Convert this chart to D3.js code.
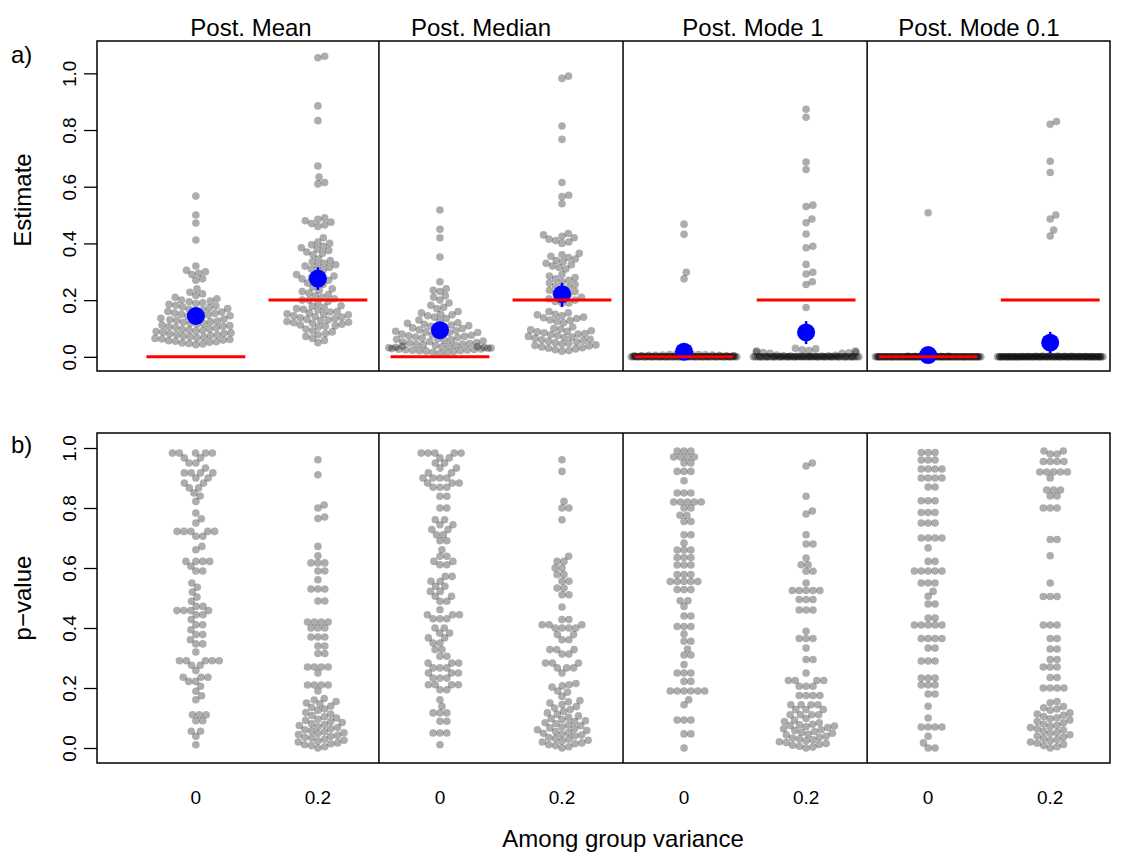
<!DOCTYPE html>
<html>
<head>
<meta charset="utf-8">
<script src="https://cdn.jsdelivr.net/npm/d3@7"></script>
<style>
  body { margin: 0; background: #fff; }
  text { font-family: "Liberation Sans", Arial, Helvetica, sans-serif; fill: #000; }
</style>
</head>
<body>
<svg id="chart" width="1139" height="852"></svg>
<script>
// panel titles and group labels
const methods = ["Post. Mean", "Post. Median", "Post. Mode 1", "Post. Mode 0.1"];
const varLabels = ["0", "0.2"];
const trueValues = [0, 0.2];
const yTicks = [0, 0.2, 0.4, 0.6, 0.8, 1.0];

// a) estimates, one array per group (read off the picture)
const estMean0 = [0.567,0.50,0.472,0.412,0.32,0.305,0.30,0.295,0.29,0.275,0.27,0.24,
  0.228,0.222,0.216,0.21,0.205,0.20,
  0.197,0.194,0.191,0.188,0.185,0.182,0.179,0.176,0.173,0.17,
  0.168,0.165,0.163,0.16,0.158,0.155,0.153,0.15,0.148,0.145,0.143,0.14,
  0.138,0.136,0.133,0.131,0.129,0.126,0.124,0.122,0.119,0.117,0.115,0.112,0.11,
  0.108,0.106,0.104,0.102,0.099,0.097,0.095,0.093,0.091,0.089,0.087,0.085,0.083,0.081,
  0.079,0.077,0.075,0.073,0.071,0.069,0.067,0.065,0.063,0.061,0.059,0.057,0.055,0.053,0.051,
  0.049,0.047,0.045,0.043];
const estMean02 = [1.06,1.055,0.885,0.833,0.673,0.634,0.615,0.61,
  0.49,0.485,0.48,0.475,0.47,0.465,0.46,
  0.42,0.405,0.40,0.395,0.39,0.385,0.38,0.375,0.37,0.365,0.36,
  0.345,0.34,0.335,0.33,0.325,0.32,0.32,0.315,0.31,0.305,
  0.295,0.29,0.285,0.28,0.28,0.275,0.27,0.265,0.26,0.255,
  0.245,0.24,0.235,0.23,0.225,0.22,0.215,0.21,0.205,0.20,0.20,0.195,0.19,
  0.18,0.178,0.175,0.17,0.168,0.165,0.16,0.158,0.155,0.152,0.15,0.148,0.145,0.142,0.14,0.138,
  0.135,0.132,0.13,0.128,0.125,0.122,0.12,0.118,0.115,0.112,0.11,0.108,0.105,
  0.098,0.092,0.088,0.082,0.078,0.072,0.065,0.058,0.05];
const estMedian0 = [0.518,0.45,0.42,0.352,0.265,0.24,0.235,0.23,0.215,0.21,0.2,0.19,0.182,0.175,0.17,
  0.16,0.155,0.15,0.148,0.145,0.14,0.135,0.13,0.125,
  0.12,0.118,0.115,0.112,0.11,0.108,0.105,0.102,0.10,0.098,0.095,0.092,0.09,0.088,0.086,
  0.085,0.082,0.08,0.078,0.076,0.074,0.072,0.07,0.068,0.066,0.064,0.062,0.06,0.058,0.056,0.054,
  0.052,0.05,0.049,0.047,0.045,0.044,0.042,0.041,0.04,0.038,0.037,0.036,0.035,0.034,0.033,0.032,
  0.031,0.03,0.029,0.028,0.027,0.026,0.025,0.024,0.023,0.022,0.021,0.02,0.018,0.016,0.014,0.012];
const estMedian02 = [0.99,0.982,0.814,0.767,0.615,0.57,0.565,0.54,
  0.435,0.43,0.425,0.42,0.415,0.41,0.405,0.40,
  0.365,0.36,0.355,0.35,0.345,0.34,0.335,0.33,0.325,0.32,0.315,0.31,
  0.29,0.285,0.28,0.275,0.27,0.265,0.26,0.255,0.25,0.245,0.24,0.235,0.23,0.225,0.22,0.215,0.21,0.205,0.20,0.195,0.19,0.19,
  0.16,0.155,0.15,0.148,0.145,0.14,0.138,0.135,0.13,0.128,0.125,0.12,
  0.105,0.10,0.098,0.095,0.092,0.09,0.088,0.085,0.082,0.08,0.078,0.075,0.072,0.07,0.068,0.065,
  0.062,0.06,0.058,0.055,0.052,0.05,0.048,0.045,0.042,0.04,0.038,0.035,0.032,0.03,0.028,0.025,0.022,0.02];
const estMode1_0 = [0.468,0.432,0.298,0.275,
  0.012,0.01,0.01,0.008,0.008,0.007,0.006,0.006,0.005,0.005,0.005,0.004,0.004,0.004,0.003,0.003,
  0.003,0.003,0.002,0.002,0.002,0.002,0.002,0.001,0.001,0.001,0.001,0.001,0.001,0.001,0.001,0.001,
  0,0,0,0,0,0,0,0,0,0,0,0,0,0,0,0,0,0,0,0,
  0,0,0,0,0,0,0,0,0,0,0,0,0,0,0,0,0,0,0,0,
  0,0,0,0,0,0,0,0,0,0,0,0,0,0,0,0,0,0,0,0];
const estMode1_02 = [0.873,0.845,0.687,0.661,0.535,0.53,0.486,0.473,0.433,0.39,0.385,0.326,0.298,0.292,0.265,0.255,0.174,
  0.03,0.028,0.025,0.022,0.02,0.02,0.018,0.016,0.015,0.014,0.012,0.012,
  0.006,0.005,0.004,0.004,0.003,0.003,0.002,0.002,0.002,0.001,0.001,0.001,
  0,0,0,0,0,0,0,0,0,0,0,0,0,0,0,0,0,0,0,0,
  0,0,0,0,0,0,0,0,0,0,0,0,0,0,0,0,0,0,0,0,
  0,0,0,0,0,0,0,0,0,0,0,0,0,0,0,0,0,0,0];
const estMode01_0 = [0.508,
  0.003,0.003,0.002,0.002,0.002,0.001,0.001,0.001,0.001,0.001,
  0,0,0,0,0,0,0,0,0,0,0,0,0,0,0,0,0,0,0,0,
  0,0,0,0,0,0,0,0,0,0,0,0,0,0,0,0,0,0,0,0,
  0,0,0,0,0,0,0,0,0,0,0,0,0,0,0,0,0,0,0,0,
  0,0,0,0,0,0,0,0,0,0,0,0,0,0,0,0,0,0,0,0,
  0,0,0,0,0,0,0,0,0];
const estMode01_02 = [0.83,0.82,0.69,0.65,0.5,0.486,0.447,0.426,
  0.004,0.003,0.003,0.002,0.002,0.002,0.001,0.001,0.001,0.001,
  0,0,0,0,0,0,0,0,0,0,0,0,0,0,0,0,0,0,0,0,
  0,0,0,0,0,0,0,0,0,0,0,0,0,0,0,0,0,0,0,0,
  0,0,0,0,0,0,0,0,0,0,0,0,0,0,0,0,0,0,0,0,
  0,0,0,0,0,0,0,0,0,0,0,0,0,0,0,0,0,0,0,0,
  0,0];

// mean estimate and its interval (blue)
const estMeans = [0.144, 0.276, 0.094, 0.221, 0.018, 0.086, 0.006, 0.05];
const estLow   = [0.122, 0.236, 0.076, 0.176, 0.004, 0.045, 0.000, 0.012];
const estHigh  = [0.166, 0.316, 0.112, 0.261, 0.032, 0.126, 0.014, 0.088];

// b) p-values, one array per group
const pMean0 = [0.983,0.983,0.983,0.983,0.983,0.967,0.967,0.95,0.95,0.933,0.917,0.917,0.917,0.917,0.90,0.90,
  0.883,0.883,0.867,0.867,0.85,0.84,0.822,0.783,0.764,0.75,0.722,0.722,0.722,0.722,0.722,0.706,0.706,
  0.672,0.661,0.622,0.622,0.622,0.622,0.606,0.59,0.59,0.55,0.536,0.52,0.503,0.489,0.472,0.472,
  0.458,0.458,0.458,0.458,0.444,0.444,0.428,0.411,0.411,0.394,0.378,0.378,0.361,0.347,0.347,0.32,
  0.291,0.291,0.291,0.291,0.291,0.276,0.276,0.258,0.236,0.236,0.236,0.222,0.222,0.206,0.189,0.174,
  0.161,0.111,0.111,0.111,0.091,0.091,0.056,0.056,0.039,0.011];
const pMean02 = [0.961,0.911,0.81,0.80,0.77,0.765,0.672,0.641,0.617,0.617,0.617,0.59,0.59,0.561,
  0.53,0.53,0.53,0.49,0.49,0.42,0.42,0.42,0.42,0.40,0.40,0.40,0.37,0.37,0.37,0.34,0.34,0.315,0.315,
  0.27,0.27,0.27,0.27,0.25,0.21,0.21,0.21,0.21,0.19,
  0.165,0.16,0.155,0.15,0.147,0.14,0.135,0.13,0.125,
  0.118,0.113,0.108,0.104,0.1,0.096,0.092,
  0.088,0.085,0.081,0.078,0.075,0.071,0.068,0.064,0.061,
  0.057,0.054,0.051,0.048,0.045,0.042,0.039,0.036,0.033,
  0.029,0.026,0.023,0.02,0.017,0.014,0.011,0.008,0.004,0.0];
const pMedian0 = [0.983,0.983,0.983,0.983,0.983,0.967,0.967,0.95,0.95,0.933,0.933,0.917,0.917,
  0.90,0.90,0.90,0.90,0.883,0.883,0.883,0.869,0.869,0.869,0.839,0.839,0.80,0.80,0.761,0.761,
  0.744,0.744,0.728,0.728,0.711,0.711,0.691,0.691,0.661,0.639,0.639,0.622,0.622,0.611,0.611,
  0.572,0.572,0.556,0.556,0.539,0.539,0.522,0.522,0.506,0.506,0.489,0.489,0.461,0.444,0.444,0.444,
  0.431,0.431,0.431,0.40,0.40,0.383,0.383,0.367,0.367,0.35,0.35,0.328,0.328,0.306,0.306,
  0.283,0.283,0.283,0.267,0.267,0.267,0.25,0.25,0.25,0.233,0.233,0.233,0.211,0.211,0.211,0.211,
  0.194,0.194,0.161,0.139,0.117,0.117,0.117,0.089,0.089,0.05,0.05,0.05,0.011];
const pMedian02 = [0.961,0.922,0.822,0.80,0.80,0.761,0.639,0.622,0.622,0.60,0.60,0.578,0.578,0.556,0.556,
  0.533,0.533,0.511,0.511,0.47,0.428,0.428,0.411,0.411,0.411,0.40,0.40,0.40,0.40,0.378,0.378,0.361,0.361,
  0.328,0.328,0.328,0.313,0.313,0.283,0.283,0.283,0.267,0.267,0.267,0.25,
  0.215,0.211,0.207,0.203,0.19,0.186,0.172,0.158,0.154,0.15,
  0.145,0.138,0.133,0.128,0.122,0.117,0.112,0.107,0.102,
  0.098,0.095,0.091,0.088,0.084,0.081,0.077,0.074,
  0.07,0.067,0.064,0.061,0.058,0.055,0.052,0.049,0.046,0.043,0.04,
  0.035,0.032,0.029,0.026,0.023,0.02,0.017,0.014,0.011,0.008,0.004,0.0];
const pMode1_0 = [0.99,0.99,0.99,0.97,0.97,0.97,0.97,0.95,0.95,0.922,0.922,0.922,0.891,0.85,0.85,0.85,
  0.82,0.82,0.82,0.82,0.82,0.80,0.80,0.776,0.776,0.755,0.755,0.711,0.711,0.683,0.66,0.66,0.66,
  0.635,0.635,0.635,0.61,0.61,0.61,0.578,0.578,0.578,0.555,0.555,0.555,0.555,0.555,0.528,0.528,0.528,
  0.491,0.491,0.472,0.44,0.44,0.405,0.405,0.405,0.38,0.356,0.356,0.33,0.31,0.31,0.278,
  0.25,0.25,0.25,0.222,0.222,0.19,0.19,0.19,0.19,0.19,0.19,0.161,0.144,0.093,0.093,0.093,0.047,0.047,0.0];
const pMode1_02 = [0.95,0.94,0.839,0.79,0.78,0.711,0.68,0.68,0.633,0.611,0.611,0.589,0.589,0.55,
  0.525,0.525,0.525,0.525,0.525,0.495,0.495,0.495,0.46,0.46,0.46,0.389,0.365,0.365,0.365,0.333,0.295,0.295,
  0.25,0.225,0.225,0.225,0.225,0.206,0.206,0.206,0.175,0.175,0.175,0.175,0.144,0.144,0.144,0.144,
  0.128,0.128,0.128,0.111,0.111,0.111,0.111,
  0.098,0.093,0.088,0.084,0.079,0.077,0.075,0.073,0.071,0.068,
  0.064,0.061,0.058,0.055,0.052,0.049,0.046,0.043,
  0.039,0.036,0.033,0.03,0.027,0.024,0.021,0.018,0.015,0.012,0.009,0.006,0.003,0.0];
const pMode01_0 = [0.985,0.985,0.985,0.96,0.96,0.96,0.93,0.93,0.93,0.93,0.90,0.90,0.90,0.90,0.87,0.87,
  0.824,0.824,0.824,0.785,0.785,0.785,0.75,0.75,0.75,0.70,0.70,0.70,0.70,0.667,0.622,0.622,
  0.59,0.59,0.59,0.59,0.59,0.55,0.55,0.55,0.522,0.506,0.48,0.48,0.433,0.433,0.41,0.41,0.41,0.41,0.41,
  0.365,0.365,0.365,0.365,0.333,0.333,0.29,0.29,0.29,0.233,0.233,0.233,0.21,0.21,0.21,0.18,0.18,
  0.139,0.1,0.07,0.07,0.07,0.07,0.039,0.017,0.0,0.0];
const pMode01_02 = [0.99,0.99,0.98,0.98,0.955,0.955,0.955,0.955,0.92,0.92,0.92,0.92,0.92,0.90,
  0.86,0.86,0.86,0.84,0.84,0.80,0.80,0.80,0.695,0.695,0.641,0.55,0.505,0.505,0.505,
  0.41,0.41,0.41,0.365,0.365,0.33,0.33,0.295,0.295,0.27,0.27,0.27,0.235,0.235,0.20,0.20,0.20,0.20,
  0.155,0.151,0.138,0.134,0.13,0.126,
  0.117,0.113,0.109,0.105,0.101,0.097,0.093,
  0.088,0.084,0.08,0.076,0.072,0.068,0.064,0.06,0.056,0.052,0.048,0.044,0.04,0.036,0.032,
  0.028,0.024,0.02,0.016,0.012,0.008,0.004,0.0];

const estGroups = [estMean0, estMean02, estMedian0, estMedian02, estMode1_0, estMode1_02, estMode01_0, estMode01_02];
const pGroups = [pMean0, pMean02, pMedian0, pMedian02, pMode1_0, pMode1_02, pMode01_0, pMode01_02];

const svg = d3.select("#chart");
const left = 97, right = 1110;
const x = d3.scaleLinear().domain([-0.81, 7.49]).range([left, right]);
const yEst = d3.scaleLinear().domain([-0.05, 1.114]).range([371, 41]);
const yP = d3.scaleLinear().domain([-0.05, 1.05]).range([763, 433]);

const dotR = 3.8, dia = 6.9, half = 53;

// simple beeswarm: place in ascending order, closest free offset to centre, then wrap into the corral
function swarm(vals, y) {
  const pts = vals.map(v => ({ v: v, py: y(v) })).sort((a, b) => a.v - b.v);
  const placed = [];
  pts.forEach(p => {
    const near = placed.filter(q => Math.abs(q.py - p.py) < dia);
    const cands = [0];
    near.forEach(q => {
      const dx = Math.sqrt(dia * dia - (q.py - p.py) ** 2);
      cands.push(q.dx + dx, q.dx - dx);
    });
    cands.sort((a, b) => Math.abs(a) - Math.abs(b));
    p.dx = cands.find(c => near.every(q => (q.dx - c) ** 2 + (q.py - p.py) ** 2 >= dia * dia - 0.01));
    placed.push(p);
  });
  pts.forEach(p => {
    p.dx = (((p.dx + half) % (2 * half)) + 2 * half) % (2 * half) - half;
  });
  return pts;
}

function drawRow(groups, y, withTruth) {
  const g = svg.append("g");
  groups.forEach((vals, i) => {
    g.append("g").selectAll("circle")
      .data(swarm(vals, y))
      .join("circle")
      .attr("cx", d => x(i) + d.dx)
      .attr("cy", d => d.py)
      .attr("r", dotR)
      .attr("fill", "rgba(0,0,0,0.32)");
  });

  if (withTruth) {
    estMeans.forEach((m, i) => {
      g.append("line")
        .attr("x1", x(i)).attr("x2", x(i))
        .attr("y1", y(estLow[i])).attr("y2", y(estHigh[i]))
        .attr("stroke", "#0000ff").attr("stroke-width", 2.5);
      g.append("circle")
        .attr("cx", x(i)).attr("cy", y(m)).attr("r", 9)
        .attr("fill", "#0000ff");
    });
    estMeans.forEach((m, i) => {
      const t = trueValues[i % 2];
      g.append("line")
        .attr("x1", x(i - 0.405)).attr("x2", x(i + 0.405))
        .attr("y1", y(t)).attr("y2", y(t))
        .attr("stroke", "#ff0000").attr("stroke-width", 3);
    });
  }

  // frame and panel dividers
  const [y0, y1] = y.range();
  g.append("rect")
    .attr("x", left).attr("y", y1).attr("width", right - left).attr("height", y0 - y1)
    .attr("fill", "none").attr("stroke", "#000").attr("stroke-width", 1.5);
  [1.5, 3.5, 5.5].forEach(b => {
    g.append("line").attr("x1", x(b)).attr("x2", x(b)).attr("y1", y1).attr("y2", y0)
      .attr("stroke", "#000").attr("stroke-width", 1.5);
  });

  // y axis with rotated labels, as in base R
  const ax = svg.append("g").attr("transform", `translate(${left},0)`)
    .call(d3.axisLeft(y).tickValues(yTicks).tickSize(13).tickFormat(d3.format(".1f")));
  ax.select(".domain").remove();
  ax.selectAll(".tick line").attr("stroke", "#000").attr("stroke-width", 1.3);
  ax.selectAll(".tick text")
    .attr("transform", "rotate(-90)")
    .attr("x", 0).attr("y", -21).attr("dy", 0)
    .attr("text-anchor", "middle")
    .style("font-size", "19px")
    .style("font-family", "'Liberation Sans', Arial, sans-serif");
}

drawRow(estGroups, yEst, true);
drawRow(pGroups, yP, false);

// panel titles
const titleX = [251, 481, 753, 979];
svg.append("g").selectAll("text").data(methods).join("text")
  .attr("x", (d, i) => titleX[i]).attr("y", 36)
  .attr("text-anchor", "middle").style("font-size", "24px")
  .text(d => d);

// group labels on the x axis
svg.append("g").selectAll("text").data(d3.range(8)).join("text")
  .attr("x", i => x(i)).attr("y", 804)
  .attr("text-anchor", "middle").style("font-size", "19px")
  .text(i => varLabels[i % 2]);

svg.append("text").attr("x", x(3.5)).attr("y", 847)
  .attr("text-anchor", "middle").style("font-size", "24px")
  .text("Among group variance");

svg.append("text").attr("transform", `translate(31,200) rotate(-90)`)
  .attr("text-anchor", "middle").style("font-size", "24px").text("Estimate");
svg.append("text").attr("transform", `translate(31,${yP(0.5)}) rotate(-90)`)
  .attr("text-anchor", "middle").style("font-size", "24px").text("p\u2212value");

svg.append("text").attr("x", 11).attr("y", 63).style("font-size", "24px").text("a)");
svg.append("text").attr("x", 11).attr("y", 453).style("font-size", "24px").text("b)");
</script>
</body>
</html>
